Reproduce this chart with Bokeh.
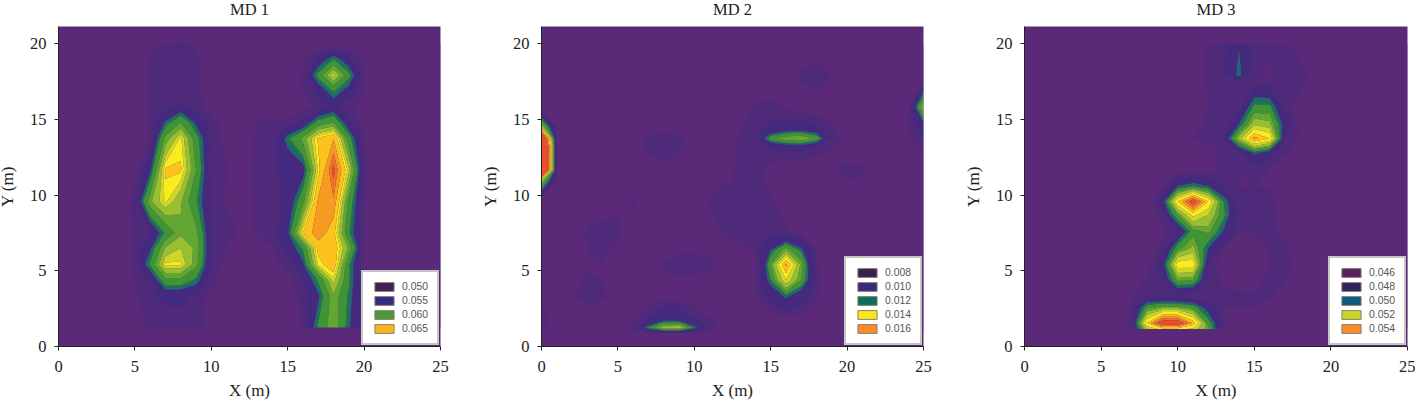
import numpy as np
from bokeh.plotting import figure
from bokeh.layouts import row
from bokeh.embed import file_html
from bokeh.resources import INLINE
from bokeh.models import Range1d, FixedTicker, Legend, LegendItem

X = list(range(26))
X_TICKS = [0, 5, 10, 15, 20, 25]
Y_TICKS = [0, 5, 10, 15, 20]

BANDS = ["#5a2a78", "#4f2a7b", "#432a7e", "#1f6a70", "#1b7a52", "#3f9436", "#62a732", "#98bf30",
         "#cfd62a", "#f8ec1f", "#fcc21d", "#f79a21", "#f0702a", "#e8502a"]

MD1_Y = [1.25, 3.33, 4.4, 5.42, 6.5, 7.5, 9.58, 11.67, 13.75, 14.8, 15.83, 16.9, 17.92, 19, 20]
MD1_LEVELS = [40, 53.5, 54.6, 56.3, 56.8, 57.3, 59, 60.3, 61.5, 62.3, 63, 64.5, 65.8, 66.8, 80]
MD1_Z = [
 [52,52,52,52,52,52.3,54,54,54.3,54.3,52.5,52,52,52,52,52,53.6,57.5,60,56.5,53.8,52,52,52,52,52],
 [52,52,52,52,52,53.2,54.5,54.8,54.8,54.5,53,52,52,52,52,52.5,54,56,60,57,53.7,52,52,52,52,52],
 [52,52,52,52,52,53.6,54.5,58.5,58.5,57,54,52.5,52,52,52,53,54.5,57.5,62,57.5,53.5,52,52,52,52,52],
 [52,52,52,52,52,54,57.5,62.5,62.5,59.5,54.3,53,52,52.5,53,54,56,62.5,64,57.5,53.3,52,52,52,52,52],
 [52,52,52,52,52.2,54,56,60.5,61.5,60,54.5,53.5,52.5,52.8,53.5,55,57.5,63.5,64,60,53.4,52,52,52,52,52],
 [52,52,52,52,52.5,53.8,54.3,57.5,60,59.5,54.5,54.2,53,53.6,54,56,63,65.5,63.5,57.5,53.5,52,52,52,52,52],
 [52,52,52,52,52.5,54,60,62.5,60.5,57.5,54.3,53.3,52.8,53.7,54,55,58.5,64.8,65.6,58.5,53.5,52,52,52,52,52],
 [52,52,52,52,52,53,56,63.2,63.2,59,54,53.5,52.5,54,54.5,54.8,55.5,62.5,67.3,61.8,53.8,52,52,52,52,52],
 [52,52,52,52,52,52.5,53.5,59.5,62.5,58,54.2,53,52.5,53.7,53.8,57,59.5,63.2,64.5,58,53.5,52,52,52,52,52],
 [52,52,52,52,52,52,54,56.5,59,56,54,52.8,52,53.6,53.7,53.8,54.8,58,59,55,53,52,52,52,52,52],
 [52,52,52,52,52,52,53.8,54.2,55,54,53,52,52,52,52,52.5,53,53.8,55,53.8,52.5,52,52,52,52,52],
 [52,52,52,52,52,52,53.8,54,54,53.8,52.5,52,52,52,52,52,53.6,55,57.5,55.5,53.6,52,52,52,52,52],
 [52,52,52,52,52,52,53.8,54,54,53.8,52.5,52,52,52,52,52,53.6,57.8,62,57.8,53.6,52,52,52,52,52],
 [52,52,52,52,52,52,53.8,54,54.3,53.8,52.5,52,52,52,52,52,53.2,55,57.2,55,53.2,52,52,52,52,52],
 [52,52,52,52,52,52,52.8,54,54.8,52.8,52,52,52,52,52,52,52,52.5,53,52.5,52,52,52,52,52,52],
]

MD2_Y = [0.9, 1.25, 1.7, 3.33, 4.4, 5.42, 6.4, 7.5, 9.58, 11, 11.67, 13.1, 13.75, 14.5, 15.83, 17.92, 20]
MD2_LEVELS = [4, 9.5, 9.9, 11, 11.2, 11.4, 12, 12.5, 13.2, 13.8, 14.5, 15.2, 16, 17, 25]
MD2_Z = [
 [9,9,9,9,9,9,9,9.5,10,10,9.5,9,9,9,9,9,9,9,9,9,9,9,9,9,9,9],
 [9.6,9.3,9.2,9,9,9,9.6,11.5,12.8,13,11.3,9.8,9.2,9,9,9,9.1,9,9,9,9,9,9,9,9,9],
 [9.6,9.3,9.2,9,9,9,9.5,10,11,11,10,9.6,9.3,9,9,9,9.2,9.1,9,9,9,9,9,9,9,9],
 [9.5,9,9.4,9.8,9.6,9.2,9,9.1,9.2,9.2,9.1,9,9,9,9.5,10.2,11.2,10.4,9.6,9,9,9,9,9,9,9],
 [9.1,9,9.2,9.6,9.5,9.1,9,9.1,9.3,9.4,9.3,9.2,9,9,9.5,11.4,13.8,12,9.7,9,9,9,9,9,9,9],
 [9,9,9,9.4,9.5,9,9,9,9.6,9.9,9.9,9.7,9,9,9.2,12,15.4,12.3,9.5,9,9,9,9,9,9,9],
 [9,9,9,9.5,9.7,9.2,9,9,9.2,9.4,9.4,9.2,9.1,9.2,9.6,11,12.3,11.2,9.4,9,9,9,9,9,9,9],
 [9,9,9,9.6,9.9,9.7,9,9,9,9,9,9,9.6,9.8,9.8,9.8,9.6,9.3,9,9,9,9,9,9,9,9],
 [9,9,9,9,9,9.3,9.6,9,9,9,9,9.6,9.9,9.8,9.8,9.6,9,9,9,9,9,9,9,9,9,9],
 [13,9.5,9,9,9,9,9,9,9,9,9,9.1,9.4,9.6,9.7,9.2,9,9,9,9,9.5,9.4,9,9,9,9],
 [22,9.5,9,9,9,9,9,9,9.3,9,9,9,9.3,9.6,9.7,9.3,9,9,9,9.4,9.7,9.6,9,9,9,9],
 [22,9.5,9,9,9,9,9,9.6,9.9,9.6,9,9,9,9.6,9.8,9.9,10.1,10.1,9.8,9.5,9.1,9,9,9,9.3,9.5],
 [20,9.5,9,9.5,9,9,9,9.7,9.9,9.7,9,9,9,9.6,9.9,11.8,12.4,12.6,11.9,9.8,9.2,9,9,9,9.4,9.8],
 [13,9.4,9,9,9,9,9,9,9.2,9,9,9,9,9.4,9.8,10,10.2,10.2,10,9.6,9,9,9,9,9.4,10.5],
 [9,9,9,9,9,9,9,9,9,9,9,9,9,9,9.6,9.7,9.4,9.2,9.2,9,9,9,9,9,9.4,12.8],
 [9,9,9,9,9,9,9,9,9,9,9,9,9,9,9,9,9,9.6,9.8,9.5,9,9,9,9,9,9],
 [9,9,9,9,9,9,9,9,9,9,9,9,9,9,9,9,9,9,9,9,9,9,9,9,9,9],
]

MD3_Y = [1.15, 1.55, 2.6, 3.33, 4.4, 5.42, 6.5, 7.6, 8.7, 9.58, 10.6, 11.67, 12.8, 13.75, 14.7, 15.83, 17.6, 17.92, 20]
MD3_LEVELS = [40, 47.5, 48, 49, 49.3, 49.6, 50.3, 50.8, 51.5, 52.2, 53, 53.7, 54.3, 55, 62]
MD3_Z = [
 [47,47,47,47,47,47,47,47.5,51.5,52.5,52.5,52,50.5,47.4,47,47,47,47,47,47,47,47,47,47,47,47],
 [47,47,47,47,47,47,47,47.8,53,56,56,53.5,50,47.6,47,47,47,47,47,47,47,47,47,47,47,47],
 [47,47,47,47,47,47,47,47.6,50,50.5,50.5,50,48.5,47.5,47.5,47.5,47.3,47,47,47,47,47,47,47,47,47],
 [47,47,47,47,47,47,47,47.5,47.7,47.7,47.6,47.4,47.5,47.6,47.6,47.6,47.6,47,47,47,47,47,47,47,47,47],
 [47,47,47,47,47,47,47,47,47.6,47.9,50.5,50.3,47.8,47.4,47.3,47.3,47.6,47.6,47,47,47,47,47,47,47,47],
 [47,47,47,47,47,47,47,47,47.2,48.5,52.7,52.7,48,47,46.3,46.3,47.5,47.7,47.2,47,47,47,47,47,47,47],
 [47,47,47,47,47,47,47,47,47.2,47.6,50,51,49,47.5,46.8,46.8,47.5,47.6,47,47,47,47,47,47,47,47],
 [47,47,47,47,47,47,47,47,47,47.4,47.9,50,50.5,48.9,47.6,47.6,47.6,47.4,47,47,47,47,47,47,47,47],
 [47,47,47,47,47,47,47,47,47,47.8,50.3,52.5,51.5,49.8,47.6,47.6,47.6,47.4,47,47,47,47,47,47,47,47],
 [47,47,47,47,47,47,47,47,47,48.5,53,55.8,53,49.6,47.6,47.6,47.6,47.3,47,47,47,47,47,47,47,47],
 [47,47,47,47,47,47,47,47,47,47.3,49,49.5,49,47.8,47.5,47.5,47.5,47,47,47,47,47,47,47,47,47],
 [47,47,47,47,47,47,47,47,47,47,47,47,47.3,47.6,47.5,47.6,47.5,47,47,47,47,47,47,47,47,47],
 [47,47,47,47,47,47,47,47,47,47,47,47,47.4,47.6,47.8,49.2,48.5,47.6,47,47,47,47,47,47,47,47],
 [47,47,47,47,47,47,47,47,47,47,47,47.5,47.6,48,51.2,54,53,48,47.4,47,47,47,47,47,47,47],
 [47,47,47,47,47,47,47,47,47,47,47,47.3,47.6,47.6,49,51.3,51,48.5,47.3,47,47,47,47,47,47,47],
 [47,47,47,47,47,47,47,47,47,47,47,47,47.5,47.5,47.7,49.8,49.8,47.7,47,47,47,47,47,47,47,47],
 [47,47,47,47,47,47,47,47,47,47,47,47,47.6,47.7,47.7,47.6,47.4,47.7,47.8,47,47,47,47,47,47,47],
 [47,47,47,47,47,47,47,47,47,47,47,47,47.6,47.9,49.25,47.6,47.4,47.8,47.8,47,47,47,47,47,47,47],
 [47,47,47,47,47,47,47,47,47,47,47,47,47.6,47.8,48.95,47.8,47.6,47.6,47.2,47,47,47,47,47,47,47],
]

MD1_LEGEND = ["0.050", "0.055", "0.060", "0.065"]
MD1_SWATCH = ["#3f1f55", "#352c82", "#4b9a35", "#fbb41e"]
MD2_LEGEND = ["0.008", "0.010", "0.012", "0.014", "0.016"]
MD2_SWATCH = ["#3c1f52", "#38297d", "#0d6e5e", "#f7e81c", "#fc8c28"]
MD3_LEGEND = ["0.046", "0.048", "0.050", "0.052", "0.054"]
MD3_SWATCH = ["#5a1f5e", "#33205e", "#0d5a80", "#c8d62a", "#fc8c26"]

SERIF = "Liberation Serif"
NO_EXTENT = [float("nan")]


def panel(title, y_vals, z_vals, levels, labels, swatches, width, right):
    p = figure(width=width, height=413, output_backend="svg", toolbar_location=None,
               x_range=Range1d(0, 25), y_range=Range1d(0, 21.15),
               min_border_left=64, min_border_right=right, min_border_top=37, min_border_bottom=56,
               background_fill_color=BANDS[0], border_fill_color="white", outline_line_color=None,
               x_axis_label="X (m)", y_axis_label="Y (m)", title=title)
    p.title.align = "center"
    p.title.text_font = SERIF
    p.title.text_font_size = "16.5px"
    p.title.text_font_style = "normal"
    p.title.text_color = "#222222"
    p.title.standoff = 16
    p.title.offset = -2
    p.grid.visible = False
    p.contour(X, y_vals, np.array(z_vals), levels, fill_color=BANDS, line_color=None)
    p.xaxis.ticker = FixedTicker(ticks=X_TICKS)
    p.yaxis.ticker = FixedTicker(ticks=Y_TICKS)
    for ax in (p.xaxis[0], p.yaxis[0]):
        ax.axis_line_color = "#222222"
        ax.major_tick_line_color = "#222222"
        ax.major_tick_out = 4
        ax.major_tick_in = 0
        ax.minor_tick_line_color = None
        ax.major_label_text_font = SERIF
        ax.major_label_text_font_size = "16.5px"
        ax.major_label_text_color = "#222222"
        ax.axis_label_text_font = SERIF
        ax.axis_label_text_font_size = "17px"
        ax.axis_label_text_font_style = "normal"
        ax.axis_label_text_color = "#222222"
    p.xaxis.major_label_standoff = 10
    p.xaxis.axis_label_standoff = 6
    p.yaxis.major_label_standoff = 8
    p.yaxis.axis_label_standoff = 10
    p.yaxis.major_label_orientation = "horizontal"
    items = []
    for lab, col in zip(labels, swatches):
        r = p.quad(left=NO_EXTENT, right=NO_EXTENT, top=NO_EXTENT, bottom=NO_EXTENT,
                   fill_color=col, line_color="#8a7f70", line_width=1)
        items.append(LegendItem(label=lab, renderers=[r]))
    leg = Legend(items=items, location="bottom_right", margin=1, padding=9, spacing=3,
                 glyph_width=24, glyph_height=11, label_height=11, label_standoff=6,
                 label_text_font="Liberation Sans", label_text_font_size="10.4px", label_text_color="#555555",
                 border_line_color="#8c8c8c", border_line_width=2, background_fill_color="white",
                 background_fill_alpha=1)
    p.add_layout(leg, "center")
    return p


p1 = panel("MD 1", MD1_Y, MD1_Z, MD1_LEVELS, MD1_LEGEND, MD1_SWATCH, 483, 37)
p2 = panel("MD 2", MD2_Y, MD2_Z, MD2_LEVELS, MD2_LEGEND, MD2_SWATCH, 483, 37)
p3 = panel("MD 3", MD3_Y, MD3_Z, MD3_LEVELS, MD3_LEGEND, MD3_SWATCH, 455, 8)

layout = row(p1, p2, p3, spacing=0, margin=(-11, 0, 0, -6))
open("out.html", "w").write(file_html(layout, INLINE))
